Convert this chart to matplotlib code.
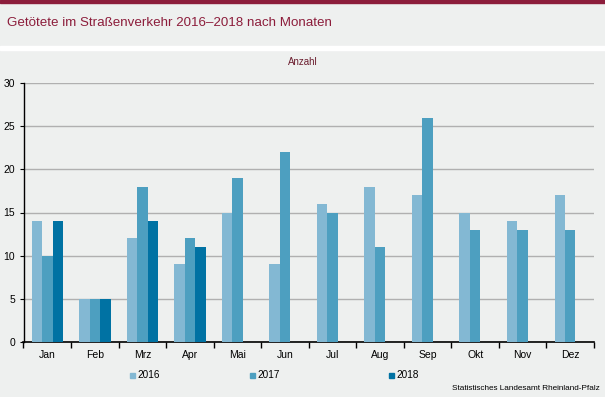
import matplotlib
matplotlib.use("Agg")
import matplotlib.pyplot as plt
import numpy as np
from matplotlib.patches import Rectangle

months = ["Jan", "Feb", "Mrz", "Apr", "Mai", "Jun", "Jul", "Aug", "Sep", "Okt", "Nov", "Dez"]
v2016 = [14, 5, 12, 9, 15, 9, 16, 18, 17, 15, 14, 17]
v2017 = [10, 5, 18, 12, 19, 22, 15, 11, 26, 13, 13, 13]
v2018 = [14, 5, 14, 11, np.nan, np.nan, np.nan, np.nan, np.nan, np.nan, np.nan, np.nan]
series = [("2016", v2016, "#83b8d3"), ("2017", v2017, "#4d9fc0"), ("2018", v2018, "#0072a3")]
yticks = [0, 5, 10, 15, 20, 25, 30]

W, H = 605, 397
bg = "#eef0ef"
fig = plt.figure(figsize=(W / 100, H / 100), dpi=100)
fig.patch.set_facecolor(bg)

# header decorations
fig.add_artist(Rectangle((0, 1 - 3 / H), 1, 3 / H, transform=fig.transFigure, color="#8c1d3b", zorder=0))
fig.add_artist(Rectangle((0, 1 - 50 / H), 1, 4 / H, transform=fig.transFigure, color="white", zorder=0))
fig.text(7 / W, 1 - 23 / H, "Getötete im Straßenverkehr 2016–2018 nach Monaten",
         fontsize=9.6, color="#8c1d3b", va="center", ha="left", family="Liberation Sans")
fig.text(303 / W, 1 - 62 / H, "Anzahl", fontsize=7.0, color="#6b1d2e", va="center", ha="center",
         family="Liberation Sans")

ax = fig.add_axes([23.5 / W, 1 - 342 / H, (594 - 23.5) / W, (342 - 83) / H])
ax.set_facecolor(bg)
x = np.arange(len(months))
bw = 0.22
for i, (lab, vals, col) in enumerate(series):
    ax.bar(x + (i - 1) * bw, vals, width=bw, color=col, label=lab, zorder=3, linewidth=0)

ax.set_xlim(-0.5, len(months) - 0.5)
ax.set_ylim(0, 30)
ax.set_yticks(yticks)
ax.set_yticklabels([str(t) for t in yticks], family="Liberation Sans", fontsize=7.5)
ax.yaxis.grid(True, color="#b0b0b0", linewidth=1.0, zorder=1)
ax.set_axisbelow(True)
ax.tick_params(axis="y", length=3, width=0.8, pad=3)
ax.set_xticks(np.arange(-0.5, len(months), 1))
ax.set_xticklabels([])
ax.set_xticks(x, minor=True)
ax.set_xticklabels(months, minor=True, family="Liberation Sans", fontsize=7.5)
ax.tick_params(axis="x", which="major", length=4, width=1, direction="out")
ax.tick_params(axis="x", which="minor", length=0, pad=6)
for s in ["top", "right"]:
    ax.spines[s].set_visible(False)
ax.spines["left"].set_linewidth(1)
ax.spines["bottom"].set_linewidth(1.2)

# legend
leg_x = [130, 250, 389]
for (lab, vals, col), lx in zip(series, leg_x):
    fig.add_artist(Rectangle((lx / W, 1 - 378 / H), 5 / W, 5 / H, transform=fig.transFigure, color=col))
    fig.text((lx + 7) / W, 1 - 375.5 / H, lab, fontsize=7.2, va="center", ha="left", family="Liberation Sans")

fig.text(600 / W, 1 - 389 / H, "Statistisches Landesamt Rheinland-Pfalz", fontsize=5.9, va="center",
         ha="right", family="Liberation Sans")

fig.savefig("out.png", dpi=100, facecolor=bg)
